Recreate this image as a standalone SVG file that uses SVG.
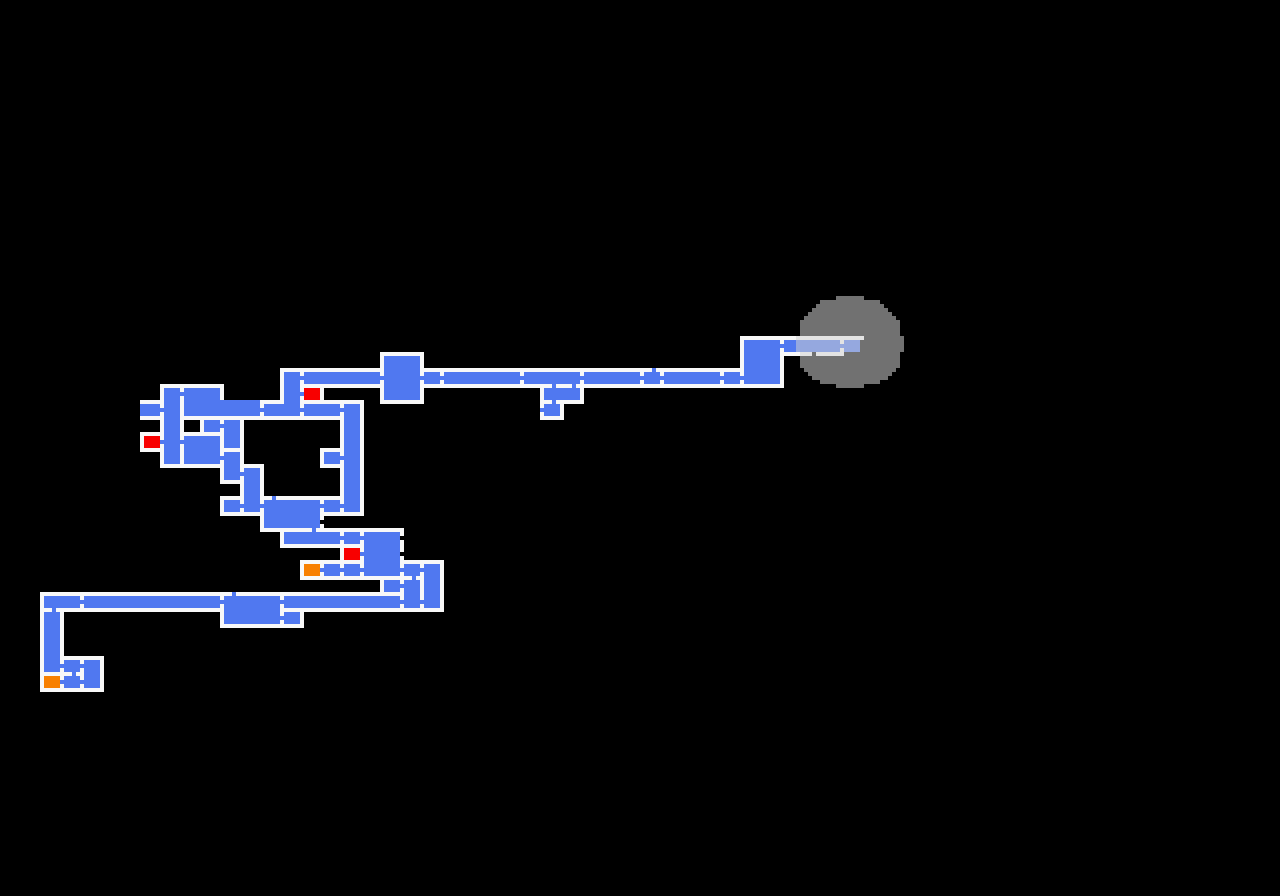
<svg xmlns="http://www.w3.org/2000/svg" width="1280" height="896" viewBox="0 0 1280 896" shape-rendering="crispEdges">
<style>
.w{fill:#F8F8F8}.f{fill:#5078F0}.r{fill:#F80000}.o{fill:#F88000}.k{fill:#000000}
.fog{fill:rgb(208,208,208);fill-opacity:0.54}
</style>
<rect x="0" y="0" width="1280" height="896" fill="#000000"/>
<g id="map">
<g id="r1"><rect class="w" x="140" y="400" width="24" height="20"/><rect class="f" x="140" y="404" width="20" height="12"/></g>
<g id="r2"><rect class="w" x="140" y="432" width="24" height="20"/><rect class="r" x="144" y="436" width="16" height="12"/></g>
<g id="r3"><rect class="w" x="160" y="384" width="24" height="84"/><rect class="f" x="164" y="388" width="16" height="76"/></g>
<g id="r4"><rect class="w" x="180" y="384" width="44" height="20"/><rect class="w" x="180" y="400" width="84" height="20"/><rect class="f" x="184" y="388" width="36" height="28"/><rect class="f" x="220" y="400" width="40" height="16"/></g>
<g id="r5"><rect class="w" x="280" y="368" width="24" height="52"/><rect class="w" x="260" y="400" width="44" height="20"/><rect class="f" x="284" y="372" width="16" height="44"/><rect class="f" x="264" y="404" width="20" height="12"/></g>
<g id="r6"><rect class="w" x="300" y="384" width="24" height="20"/><rect class="r" x="304" y="388" width="16" height="12"/></g>
<g id="r7"><rect class="w" x="300" y="368" width="84" height="20"/><rect class="f" x="304" y="372" width="76" height="12"/></g>
<g id="r8"><rect class="w" x="380" y="352" width="44" height="52"/><rect class="f" x="384" y="356" width="36" height="44"/></g>
<g id="r9"><rect class="w" x="300" y="400" width="44" height="20"/><rect class="f" x="304" y="404" width="36" height="12"/></g>
<g id="r10"><rect class="w" x="340" y="400" width="24" height="116"/><rect class="f" x="344" y="404" width="16" height="108"/></g>
<g id="r11"><rect class="w" x="200" y="416" width="24" height="20"/><rect class="f" x="204" y="420" width="16" height="12"/></g>
<g id="r12"><rect class="w" x="180" y="416" width="24" height="20"/><rect class="k" x="184" y="420" width="16" height="12"/></g>
<g id="r13"><rect class="w" x="220" y="416" width="24" height="36"/><rect class="f" x="224" y="420" width="16" height="28"/></g>
<g id="r14"><rect class="w" x="180" y="432" width="44" height="36"/><rect class="f" x="184" y="436" width="36" height="28"/></g>
<g id="r15"><rect class="w" x="220" y="448" width="24" height="36"/><rect class="f" x="224" y="452" width="16" height="28"/></g>
<g id="r16"><rect class="w" x="240" y="464" width="24" height="52"/><rect class="f" x="244" y="468" width="16" height="44"/></g>
<g id="r17"><rect class="w" x="320" y="448" width="24" height="20"/><rect class="f" x="324" y="452" width="16" height="12"/></g>
<g id="r18"><rect class="w" x="220" y="496" width="24" height="20"/><rect class="f" x="224" y="500" width="16" height="12"/></g>
<g id="r19"><rect class="w" x="260" y="496" width="64" height="36"/><rect class="f" x="264" y="500" width="56" height="28"/></g>
<g id="r20"><rect class="w" x="320" y="496" width="24" height="20"/><rect class="f" x="324" y="500" width="16" height="12"/></g>
<g id="r21"><rect class="w" x="280" y="528" width="64" height="20"/><rect class="f" x="284" y="532" width="56" height="12"/></g>
<g id="r22"><rect class="w" x="340" y="528" width="24" height="20"/><rect class="f" x="344" y="532" width="16" height="12"/></g>
<g id="r23"><rect class="w" x="340" y="544" width="24" height="20"/><rect class="r" x="344" y="548" width="16" height="12"/></g>
<g id="r24"><rect class="w" x="360" y="528" width="44" height="52"/><rect class="f" x="364" y="532" width="36" height="44"/></g>
<g id="r25"><rect class="w" x="300" y="560" width="24" height="20"/><rect class="o" x="304" y="564" width="16" height="12"/></g>
<g id="r26"><rect class="w" x="320" y="560" width="24" height="20"/><rect class="f" x="324" y="564" width="16" height="12"/></g>
<g id="r27"><rect class="w" x="340" y="560" width="24" height="20"/><rect class="f" x="344" y="564" width="16" height="12"/></g>
<g id="r28"><rect class="w" x="400" y="560" width="24" height="20"/><rect class="f" x="404" y="564" width="16" height="12"/></g>
<g id="r29"><rect class="w" x="420" y="560" width="24" height="52"/><rect class="f" x="424" y="564" width="16" height="44"/></g>
<g id="r30"><rect class="w" x="380" y="576" width="24" height="20"/><rect class="f" x="384" y="580" width="16" height="12"/></g>
<g id="r31"><rect class="w" x="400" y="576" width="24" height="36"/><rect class="f" x="404" y="580" width="16" height="28"/></g>
<g id="r32"><rect class="w" x="40" y="592" width="44" height="20"/><rect class="f" x="44" y="596" width="36" height="12"/></g>
<g id="r33"><rect class="w" x="80" y="592" width="144" height="20"/><rect class="f" x="84" y="596" width="136" height="12"/></g>
<g id="r34"><rect class="w" x="220" y="592" width="64" height="36"/><rect class="f" x="224" y="596" width="56" height="28"/></g>
<g id="r35"><rect class="w" x="280" y="592" width="124" height="20"/><rect class="f" x="284" y="596" width="116" height="12"/></g>
<g id="r36"><rect class="w" x="280" y="608" width="24" height="20"/><rect class="f" x="284" y="612" width="16" height="12"/></g>
<g id="r37"><rect class="w" x="40" y="608" width="24" height="68"/><rect class="f" x="44" y="612" width="16" height="60"/></g>
<g id="r38"><rect class="w" x="60" y="656" width="24" height="20"/><rect class="f" x="64" y="660" width="16" height="12"/></g>
<g id="r39"><rect class="w" x="80" y="656" width="24" height="36"/><rect class="f" x="84" y="660" width="16" height="28"/></g>
<g id="r40"><rect class="w" x="40" y="672" width="24" height="20"/><rect class="o" x="44" y="676" width="16" height="12"/></g>
<g id="r41"><rect class="w" x="60" y="672" width="24" height="20"/><rect class="f" x="64" y="676" width="16" height="12"/></g>
<g id="c1"><rect class="w" x="420" y="368" width="24" height="20"/><rect class="f" x="424" y="372" width="16" height="12"/></g>
<g id="c2"><rect class="w" x="440" y="368" width="84" height="20"/><rect class="f" x="444" y="372" width="76" height="12"/></g>
<g id="c3"><rect class="w" x="520" y="368" width="64" height="20"/><rect class="f" x="524" y="372" width="56" height="12"/></g>
<g id="c4"><rect class="w" x="580" y="368" width="64" height="20"/><rect class="f" x="584" y="372" width="56" height="12"/></g>
<g id="c5"><rect class="w" x="640" y="368" width="24" height="20"/><rect class="f" x="644" y="372" width="16" height="12"/></g>
<g id="c6"><rect class="w" x="660" y="368" width="64" height="20"/><rect class="f" x="664" y="372" width="56" height="12"/></g>
<g id="c7"><rect class="w" x="720" y="368" width="24" height="20"/><rect class="f" x="724" y="372" width="16" height="12"/></g>
<g id="r43"><rect class="w" x="540" y="384" width="44" height="20"/><rect class="f" x="544" y="388" width="36" height="12"/></g>
<g id="r44"><rect class="w" x="540" y="400" width="24" height="20"/><rect class="f" x="544" y="404" width="16" height="12"/></g>
<g id="r45"><rect class="w" x="740" y="336" width="44" height="52"/><rect class="f" x="744" y="340" width="36" height="44"/></g>
<g id="r46"><rect class="w" x="780" y="336" width="64" height="20"/><rect class="f" x="784" y="340" width="56" height="12"/></g>
<g id="r47"><rect class="w" x="840" y="336" width="24" height="4"/><rect class="f" x="844" y="340" width="16" height="12"/></g>
</g>
<g id="doors">
<rect class="f" x="160" y="408" width="4" height="4"/>
<rect class="f" x="160" y="440" width="4" height="4"/>
<rect class="f" x="180" y="392" width="4" height="4"/>
<rect class="f" x="180" y="440" width="4" height="4"/>
<rect class="f" x="220" y="424" width="4" height="4"/>
<rect class="f" x="220" y="456" width="4" height="4"/>
<rect class="f" x="240" y="472" width="4" height="4"/>
<rect class="f" x="260" y="408" width="4" height="4"/>
<rect class="f" x="300" y="376" width="4" height="4"/>
<rect class="f" x="300" y="392" width="4" height="4"/>
<rect class="f" x="300" y="408" width="4" height="4"/>
<rect class="f" x="340" y="408" width="4" height="4"/>
<rect class="f" x="380" y="376" width="4" height="4"/>
<rect class="f" x="420" y="376" width="4" height="4"/>
<rect class="f" x="440" y="376" width="4" height="4"/>
<rect class="f" x="520" y="376" width="4" height="4"/>
<rect class="f" x="580" y="376" width="4" height="4"/>
<rect class="f" x="640" y="376" width="4" height="4"/>
<rect class="f" x="660" y="376" width="4" height="4"/>
<rect class="f" x="720" y="376" width="4" height="4"/>
<rect class="f" x="740" y="376" width="4" height="4"/>
<rect class="f" x="780" y="344" width="4" height="4"/>
<rect class="f" x="840" y="344" width="4" height="4"/>
<rect class="f" x="340" y="456" width="4" height="4"/>
<rect class="f" x="340" y="504" width="4" height="4"/>
<rect class="f" x="240" y="504" width="4" height="4"/>
<rect class="f" x="260" y="504" width="4" height="4"/>
<rect class="f" x="320" y="504" width="4" height="4"/>
<rect class="f" x="340" y="536" width="4" height="4"/>
<rect class="f" x="360" y="536" width="4" height="4"/>
<rect class="f" x="360" y="552" width="4" height="4"/>
<rect class="f" x="360" y="568" width="4" height="4"/>
<rect class="f" x="320" y="568" width="4" height="4"/>
<rect class="f" x="340" y="568" width="4" height="4"/>
<rect class="f" x="400" y="568" width="4" height="4"/>
<rect class="f" x="420" y="568" width="4" height="4"/>
<rect class="f" x="400" y="584" width="4" height="4"/>
<rect class="f" x="420" y="600" width="4" height="4"/>
<rect class="f" x="400" y="600" width="4" height="4"/>
<rect class="f" x="80" y="600" width="4" height="4"/>
<rect class="f" x="220" y="600" width="4" height="4"/>
<rect class="f" x="280" y="600" width="4" height="4"/>
<rect class="f" x="280" y="616" width="4" height="4"/>
<rect class="f" x="60" y="664" width="4" height="4"/>
<rect class="f" x="80" y="664" width="4" height="4"/>
<rect class="f" x="60" y="680" width="4" height="4"/>
<rect class="f" x="80" y="680" width="4" height="4"/>
<rect class="f" x="540" y="408" width="4" height="4"/>
<rect class="f" x="272" y="496" width="4" height="4"/>
<rect class="f" x="312" y="528" width="4" height="4"/>
<rect class="f" x="232" y="592" width="4" height="4"/>
<rect class="f" x="52" y="608" width="4" height="4"/>
<rect class="f" x="72" y="672" width="4" height="4"/>
<rect class="f" x="412" y="576" width="4" height="4"/>
<rect class="f" x="652" y="368" width="4" height="4"/>
<rect class="f" x="552" y="384" width="4" height="4"/>
<rect class="f" x="572" y="384" width="4" height="4"/>
<rect class="f" x="552" y="400" width="4" height="4"/>
<rect class="k" x="320" y="520" width="4" height="4"/>
<rect class="k" x="400" y="536" width="4" height="4"/>
<rect class="k" x="400" y="552" width="4" height="4"/>
<rect class="k" x="812" y="352" width="4" height="4"/>
</g>
<g id="fog">
<polygon class="fog" points="836,296 864,296 864,300 880,300 880,304 884,304 884,308 888,308 888,312 892,312 892,316 896,316 896,320 900,320 900,336 904,336 904,352 900,352 900,368 896,368 896,372 892,372 892,376 888,376 888,380 880,380 880,384 864,384 864,388 836,388 836,384 820,384 820,380 812,380 812,376 808,376 808,372 804,372 804,368 800,368 800,352 796,352 796,336 800,336 800,320 804,320 804,316 808,316 808,312 812,312 812,308 816,308 816,304 820,304 820,300 836,300"/>
</g>
</svg>
